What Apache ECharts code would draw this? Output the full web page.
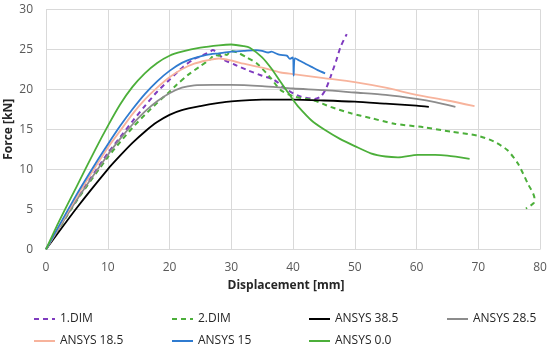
<!DOCTYPE html>
<html><head><meta charset="utf-8">
<script src="https://cdn.jsdelivr.net/npm/echarts@6/dist/echarts.min.js"></script>
<style>html,body{margin:0;padding:0;background:#fff}#c{width:550px;height:346px}</style>
</head><body><div id="c"></div>
<script>
var xTicks = [0,10,20,30,40,50,60,70,80];
var yTicks = [0,5,10,15,20,25,30];
var seriesNames = ['1.DIM','2.DIM','ANSYS 38.5','ANSYS 28.5','ANSYS 18.5','ANSYS 15','ANSYS 0.0'];

var dim1 = [[0,0],[5,6.3],[10,12.0],[12,14.0],[14,16.0],[16,17.9],[18,19.7],[20,21.2],[22.2,22.8],[24,23.8],[25,24.1],[26,24.5],[26.6,24.7],[27,24.9],[28,24.4],[28.8,23.7],[30.5,23.1],[32.6,22.4],[35,21.7],[36.9,21.2],[39.1,19.9],[41.2,19.1],[43.5,18.8],[44.5,19.1],[45.3,20.0],[46.1,21.6],[47,23.6],[47.7,25.3],[48.7,26.9]];
var dim2 = [[0,0],[5,6.1],[10,11.5],[12,13.4],[14,15.2],[16,16.8],[18,18.3],[20,19.7],[21.2,20.6],[23,21.8],[25,22.9],[26.5,23.7],[27.3,24.3],[28,24.2],[28.7,24.4],[29.3,24.3],[29.9,24.8],[31,24.6],[32.5,24.0],[34.2,23.2],[36.4,21.4],[38,19.9],[40.2,19.1],[43.4,18.6],[46.1,17.8],[49.4,17.0],[52.6,16.4],[56.4,15.7],[61.2,15.25],[65.6,14.7],[69.9,14.2],[72.6,13.45],[74.7,12.4],[76.4,10.75],[78,8.25],[79.1,6.4],[79,5.8],[77.7,5.1]];
var ansys385 = [[0,0],[5,5.2],[10,10.0],[12,11.7],[14,13.3],[16,14.7],[18,15.9],[20,16.8],[22,17.4],[25,17.9],[28,18.3],[30,18.5],[35,18.7],[40,18.7],[45,18.6],[50,18.45],[55,18.2],[60,17.95],[62,17.8]];
var ansys285 = [[0,0],[5,6.2],[10,11.8],[12,13.8],[14,15.6],[16,17.2],[18,18.5],[20,19.5],[22,20.2],[24,20.5],[27,20.55],[30,20.55],[35,20.4],[40,20.1],[45,19.9],[50,19.6],[55,19.3],[60,18.8],[63,18.4],[66.3,17.8]];
var ansys185 = [[0,0],[5,6.6],[10,12.7],[12,14.8],[14,16.9],[16,18.7],[18,20.2],[20,21.5],[22,22.5],[24,23.2],[26,23.6],[28,23.85],[30,23.6],[32,23.2],[35,22.7],[38,22.1],[40,21.9],[45,21.4],[50,20.9],[55,20.2],[60,19.3],[65,18.6],[69.4,17.9]];
var ansys15 = [[0,0],[5,6.9],[8,10.7],[10,13.1],[12,15.4],[14,17.5],[16,19.4],[18,21.0],[20,22.3],[22,23.3],[24,23.9],[26,24.3],[28,24.5],[30,24.7],[32,24.8],[34,24.9],[35,24.8],[36,24.6],[36.5,24.7],[37.5,24.4],[38,24.3],[39,24.2],[39.5,23.8],[40,24.0],[40.1,21.7],[40.3,23.9],[41,23.6],[42,23.2],[43,22.8],[44,22.4],[45.2,22.0]];
var ansys00 = [[0,0],[2,3.3],[5,7.9],[8,12.5],[10,15.4],[12,18.1],[14,20.3],[16,22.0],[18,23.3],[20,24.2],[22,24.7],[25,25.2],[28,25.5],[30,25.6],[32,25.4],[33,25.2],[35,24.0],[36.5,22.6],[38,20.9],[40,18.7],[41,17.7],[43,16.1],[45,15.0],[47.6,13.8],[50,12.9],[52.6,12.0],[55,11.6],[57,11.5],[60.2,11.8],[63,11.8],[65,11.7],[68.6,11.3]];

var seriesData = [dim1, dim2, ansys385, ansys285, ansys185, ansys15, ansys00];
var colors = ['#7f3bbf','#4caf3a','#000000','#8c8c8c','#f7b39c','#2f7bd0','#4caf3a'];
var dashed = [true,true,false,false,false,false,false];

var series = seriesNames.map(function(n,i){
  return {
    name: n, type: 'line', data: seriesData[i], showSymbol: false, symbol: 'none',
    smooth: 0.25, animation: false,
    lineStyle: {color: colors[i], width: dashed[i] ? 2 : 1.8, type: dashed[i] ? [5,4] : 'solid'},
    itemStyle: {color: colors[i]}
  };
});

var legendPos = [[33,313],[171,313],[308,313],[446,313],[33,335],[171,335],[308,335]];
var legends = seriesNames.map(function(n,i){
  return {
    data: [n], left: legendPos[i][0], top: legendPos[i][1],
    itemWidth: 21, itemHeight: 10, padding: 0,
    itemStyle: {opacity: 0},
    textStyle: {fontFamily: 'Open Sans', fontSize: 12, color: '#262626'}
  };
});

var chart = echarts.init(document.getElementById('c'), null, {renderer: 'canvas'});
chart.setOption({
  backgroundColor: '#fff',
  animation: false,
  legend: legends,
  grid: {left: 46, right: 10, top: 9.3, bottom: 96.7, containLabel: false, outerBoundsMode: 'none'},
  xAxis: {
    type: 'value', min: xTicks[0], max: xTicks[xTicks.length-1], interval: 10,
    name: 'Displacement [mm]', nameLocation: 'middle', nameGap: 30, nameMoveOverlap: false,
    nameTextStyle: {fontFamily: 'Open Sans', fontWeight: 'bold', fontSize: 12, color: '#262626', padding: [0,14,0,0]},
    axisLine: {show: true, lineStyle: {color: '#d9d9d9'}},
    axisTick: {show: false},
    axisLabel: {margin: 12, fontFamily: 'Open Sans', fontSize: 12, color: '#595959'},
    splitLine: {show: true, lineStyle: {color: '#d9d9d9'}}
  },
  yAxis: {
    type: 'value', min: yTicks[0], max: yTicks[yTicks.length-1], interval: 5,
    name: 'Force [kN]', nameLocation: 'middle', nameGap: 31, nameMoveOverlap: false,
    nameTextStyle: {fontFamily: 'Open Sans', fontWeight: 'bold', fontSize: 12, color: '#262626'},
    axisLine: {show: false}, axisTick: {show: false},
    axisLabel: {margin: 13, fontFamily: 'Open Sans', fontSize: 12, color: '#595959'},
    splitLine: {show: true, lineStyle: {color: '#d9d9d9'}}
  },
  series: series
});
</script></body></html>
